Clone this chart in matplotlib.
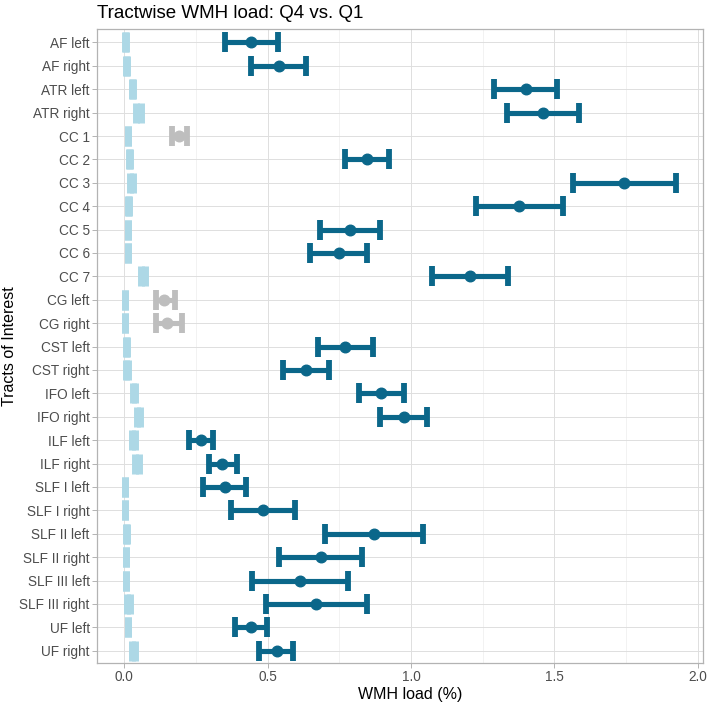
import numpy as np
import matplotlib
matplotlib.use('Agg')
import matplotlib.pyplot as plt
from matplotlib.ticker import MultipleLocator

plt.rcParams['font.family'] = ['Liberation Sans', 'DejaVu Sans']

'''
Tracts and the WMH load estimates (mean and confidence limits)
'''
TRACTS = ['AF left', 'AF right', 'ATR left', 'ATR right',
          'CC 1', 'CC 2', 'CC 3', 'CC 4', 'CC 5', 'CC 6', 'CC 7',
          'CG left', 'CG right', 'CST left', 'CST right',
          'IFO left', 'IFO right', 'ILF left', 'ILF right',
          'SLF I left', 'SLF I right', 'SLF II left', 'SLF II right',
          'SLF III left', 'SLF III right', 'UF left', 'UF right']

# Q4 group
Q4_MEAN = [0.442, 0.538, 1.401, 1.461, 0.191, 0.847, 1.742, 1.377, 0.788, 0.747, 1.207,
           0.139, 0.148, 0.770, 0.634, 0.896, 0.976, 0.267, 0.342,
           0.350, 0.484, 0.871, 0.685, 0.613, 0.668, 0.441, 0.531]
Q4_LOW = [0.350, 0.443, 1.288, 1.336, 0.167, 0.770, 1.563, 1.225, 0.682, 0.646, 1.074,
          0.112, 0.112, 0.674, 0.553, 0.820, 0.893, 0.226, 0.295,
          0.273, 0.371, 0.700, 0.541, 0.444, 0.493, 0.386, 0.471]
Q4_HIGH = [0.535, 0.634, 1.510, 1.587, 0.217, 0.923, 1.924, 1.531, 0.893, 0.845, 1.339,
           0.178, 0.201, 0.867, 0.714, 0.974, 1.057, 0.308, 0.393,
           0.425, 0.595, 1.043, 0.830, 0.779, 0.845, 0.498, 0.589]
# tracts where the Q4 difference is not significant (drawn grey)
NOT_SIG = ['CC 1', 'CG left', 'CG right']

# Q1 group
Q1_MEAN = [0.0048, 0.0077, 0.0291, 0.0507, 0.0135, 0.0199, 0.0251, 0.0158, 0.0135, 0.0131, 0.0664,
           0.0019, 0.0019, 0.0094, 0.0106, 0.0344, 0.0501, 0.0321, 0.0460,
           0.0036, 0.0036, 0.0077, 0.0060, 0.0060, 0.0158, 0.0130, 0.0315]
Q1_HALF = [0.0010, 0.0012, 0.0030, 0.0082, 0.0012, 0.0017, 0.0047, 0.0023, 0.0012, 0.0005, 0.0075,
           0.0003, 0.0003, 0.0017, 0.0030, 0.0035, 0.0040, 0.0047, 0.0070,
           0.0005, 0.0005, 0.0023, 0.0017, 0.0017, 0.0058, 0.0017, 0.0052]

DARK = '#0B678A'
GREY = '#BEBEBE'
LIGHT = '#ADD8E6'

'''
Figure and panel
'''
fig = plt.figure(figsize=(7.08, 7.06), dpi=100)
ax = fig.add_axes([0.1374, 0.0613, 0.8551, 0.8972])

ypos = np.arange(len(TRACTS))
q4m = np.array(Q4_MEAN)
q4err = [q4m - np.array(Q4_LOW), np.array(Q4_HIGH) - q4m]
q1m = np.array(Q1_MEAN)
q1h = np.array(Q1_HALF)

# Q1 reference bars (narrow, so they look like blocks)
ax.errorbar(q1m, ypos, xerr=q1h, fmt='none', ecolor=LIGHT, elinewidth=5,
            capsize=7.4, capthick=5.0, zorder=3)

# Q4 estimates
colors = [GREY if t in NOT_SIG else DARK for t in TRACTS]
for i in range(len(TRACTS)):
    ax.errorbar(q4m[i], ypos[i], xerr=[[q4err[0][i]], [q4err[1][i]]], fmt='o',
                color=colors[i], ms=7.6, elinewidth=3.7, capsize=7.4, capthick=4.2,
                zorder=4)

'''
Axes styling (light theme)
'''
ax.set_xlim(-0.0941, 2.0167)
ax.set_ylim(len(TRACTS) - 1 + 0.51, -0.56)
ax.set_yticks(ypos)
ax.set_yticklabels(TRACTS)
ax.xaxis.set_minor_locator(MultipleLocator(0.25))
ax.set_xticks([0, 0.5, 1.0, 1.5, 2.0])
ax.set_xticklabels(['0.0', '0.5', '1.0', '1.5', '2.0'])

ax.grid(which='major', color='#DEDEDE', linewidth=0.7, zorder=0)
ax.grid(which='minor', axis='x', color='#EDEDED', linewidth=0.5, zorder=0)
ax.set_axisbelow(True)
for s in ax.spines.values():
    s.set_color('#B3B3B3')
    s.set_linewidth(0.9)
ax.tick_params(which='major', length=3.5, width=0.7, color='#B3B3B3',
               labelcolor='#4D4D4D', labelsize=9.8, pad=2)
ax.tick_params(which='minor', length=0)

ax.set_xlabel('WMH load (%)', fontsize=11.5)
ax.xaxis.set_label_coords((410 - 97.3) / 605.4, -(694 - 662.7) / 633.4)
ax.xaxis.label.set_va('center')
ax.set_ylabel('Tracts of Interest', fontsize=11.5)
ax.yaxis.set_label_coords(-(97.3 - 10) / 605.4, 0.5)
ax.yaxis.label.set_va('center')
fig.text(97.3 / 708, 1 - 17.5 / 706, 'Tractwise WMH load: Q4 vs. Q1', fontsize=13.5,
         ha='left', va='baseline')

fig.savefig('out.png', dpi=100)
